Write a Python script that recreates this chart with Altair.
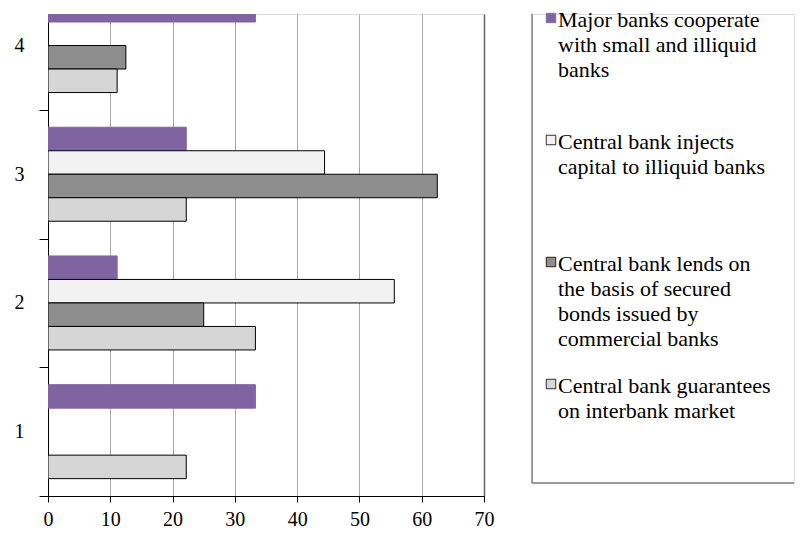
import altair as alt
import pandas as pd

# ---- data ----
categories = [1, 2, 3, 4]
series_names = [
    "Major banks cooperate with small and illiquid banks",
    "Central bank injects capital to illiquid banks",
    "Central bank lends on the basis of secured bonds issued by commercial banks",
    "Central bank guarantees on interbank market",
]
legend_labels = [
    "Major banks cooperate\nwith small and illiquid\nbanks",
    "Central bank injects\ncapital to illiquid banks",
    "Central bank lends on\nthe basis of secured\nbonds issued by\ncommercial banks",
    "Central bank guarantees\non interbank market",
]
major = [33.3, 11.1, 22.2, 33.3]
injects = [0.0, 55.6, 44.4, 0.0]
lends = [0.0, 25.0, 62.5, 12.5]
guarantees = [22.2, 33.3, 22.2, 11.1]
x_ticks = [0, 10, 20, 30, 40, 50, 60, 70]
y_ticks = [0.5, 1, 1.5, 2, 2.5, 3, 3.5, 4]

# ---- styles ----
fills = ["#8064a2", "#f2f2f2", "#8e8e8e", "#d6d6d6"]
strokes = ["#8064a2", "#000000", "#000000", "#000000"]
FONT = "Liberation Serif"
BAR = 0.1826  # bar thickness as a fraction of one category band

rows = []
for i, (name, vals) in enumerate(zip(series_names, [major, injects, lends, guarantees])):
    for c, v in zip(categories, vals):
        if v > 0:
            rows.append({"cat": c, "series": name, "idx": i, "value": v})
df = pd.DataFrame(rows)

fill_scale = alt.Scale(domain=series_names, range=fills)
stroke_scale = alt.Scale(domain=series_names, range=strokes)

bars = (
    alt.Chart(df)
    .transform_calculate(pos=f"datum.cat + (1.5 - datum.idx) * {BAR}")
    .transform_calculate(
        ylo=f"datum.pos - {BAR / 2}", yhi=f"datum.pos + {BAR / 2}", zero="0"
    )
    .mark_rect(clip=True, strokeWidth=1)
    .encode(
        x=alt.X(
            "value:Q",
            scale=alt.Scale(domain=[0, 70], nice=False),
            axis=alt.Axis(
                values=x_ticks,
                grid=True,
                gridColor={"condition": {"test": "datum.value == 70", "value": "#666666"}, "value": "#a8a8a8"},
                gridWidth={"condition": {"test": "datum.value == 70", "value": 1.5}, "value": 1},
                domainColor="black",
                tickColor="black",
                tickSize=6,
                labelPadding=7,
                labelFlush=False,
                labelFont=FONT,
                labelFontSize=20,
                labelColor="black",
                title=None,
            ),
        ),
        x2=alt.X2("zero"),
        y=alt.Y(
            "ylo:Q",
            scale=alt.Scale(domain=[0.5, 4.245], nice=False, zero=False),
            axis=alt.Axis(
                values=y_ticks,
                labelExpr="datum.value % 1 == 0 ? format(datum.value, 'd') : ''",
                tickOpacity={"condition": {"test": "datum.value % 1 == 0", "value": 0}, "value": 1},
                grid=False,
                domainColor="black",
                tickColor="black",
                tickSize=9,
                labelPadding=15,
                labelFont=FONT,
                labelFontSize=20,
                labelColor="black",
                title=None,
            ),
        ),
        y2=alt.Y2("yhi"),
        fill=alt.Fill("series:N", scale=fill_scale, legend=None),
        stroke=alt.Stroke("series:N", scale=stroke_scale, legend=None),
    )
    .properties(width=436, height=482)
)

# ---- hand-made legend box ----
leg_df = pd.DataFrame({"series": series_names, "label": legend_labels})
LEG_W, LEG_H = 262, 469
ypos = alt.Y(
    "series:N",
    sort=series_names,
    scale=alt.Scale(type="point", range=[-4, 362], padding=0),
    axis=None,
)
sym = (
    alt.Chart(leg_df)
    .mark_square(size=90, yOffset=8, strokeWidth=0.8, opacity=1)
    .encode(
        x=alt.value(19),
        y=ypos,
        fill=alt.Fill("series:N", scale=fill_scale, legend=None),
        stroke=alt.Stroke("series:N", scale=alt.Scale(domain=series_names, range=["#8064a2", "#555555", "#555555", "#555555"]), legend=None),
    )
)
txt = (
    alt.Chart(leg_df)
    .mark_text(align="left", baseline="top", lineBreak="\n", lineHeight=25,
               font=FONT, fontSize=22, color="black")
    .encode(x=alt.value(26), y=ypos, text="label:N")
)
one = pd.DataFrame({"a": [0]})
left_edge = alt.Chart(one).mark_rule(color="#7f7f7f", strokeWidth=1.5).encode(
    x=alt.value(0), y=alt.value(0), y2=alt.value(LEG_H)
)
bottom_edge = alt.Chart(one).mark_rule(color="#7f7f7f", strokeWidth=1.5).encode(
    x=alt.value(0), x2=alt.value(LEG_W), y=alt.value(LEG_H)
)
legend = alt.layer(left_edge, bottom_edge, sym, txt).properties(width=LEG_W, height=LEG_H)

chart = (
    alt.hconcat(bars, legend, spacing=48, bounds="flush")
    .properties(padding={"left": 5, "top": 0, "right": 0, "bottom": 0})
    .configure_view(strokeWidth=0)
    .configure(font=FONT)
)

chart.save("out.html", embed_options={"renderer": "svg", "actions": False})
